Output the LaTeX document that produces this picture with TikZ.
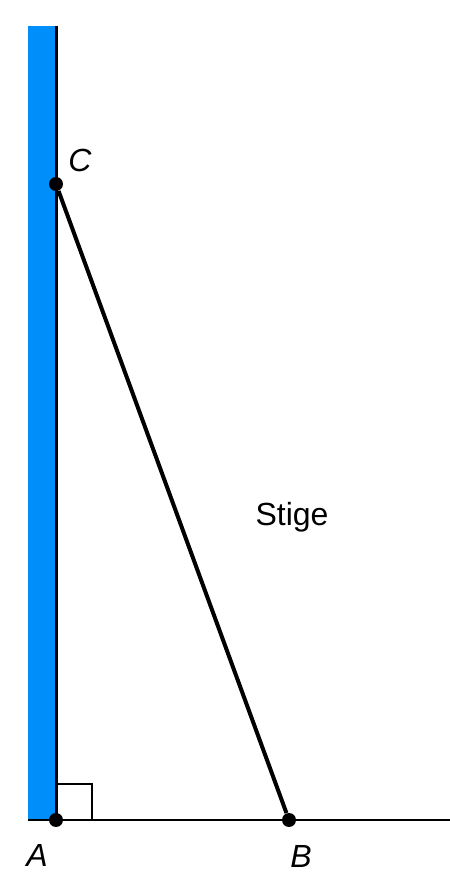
\documentclass[tikz,border=0pt]{standalone}
\usepackage{fontspec}
\setmainfont{Liberation Sans}
\definecolor{wallblue}{RGB}{0,142,250}
\tikzset{pt/.style={circle, fill=black, inner sep=0pt, minimum size=7pt},
	lbl/.style={font=\fontsize{16}{18}\selectfont\itshape}}
\begin{document}
\begin{tikzpicture}[x=0.5pt, y=0.5pt]
\useasboundingbox (0,0) rectangle (450,891);
\fill[wallblue] (28,71) rectangle (56,865);
\draw[line width=1.5pt] (56,865) -- (56,71);
\draw[line width=1pt] (28,71) -- (450,71);
\draw[line width=1pt] (56,107) -| (92,71);

\node[pt] (A) at (56,71) {};
\node[pt] (B) at (289,71) {};
\node[pt] (C) at (56,707) {};
\draw[line width=2pt] (C) -- (B);
\node[font=\fontsize{16}{18}\selectfont] (stige) at (292,374) {Stige};

\node[lbl] (labA) at (37,36) {A};
\node[lbl] (labB) at (301,35) {B};
\node[lbl] (labC) at (80,731) {C};
\end{tikzpicture}
\end{document}
